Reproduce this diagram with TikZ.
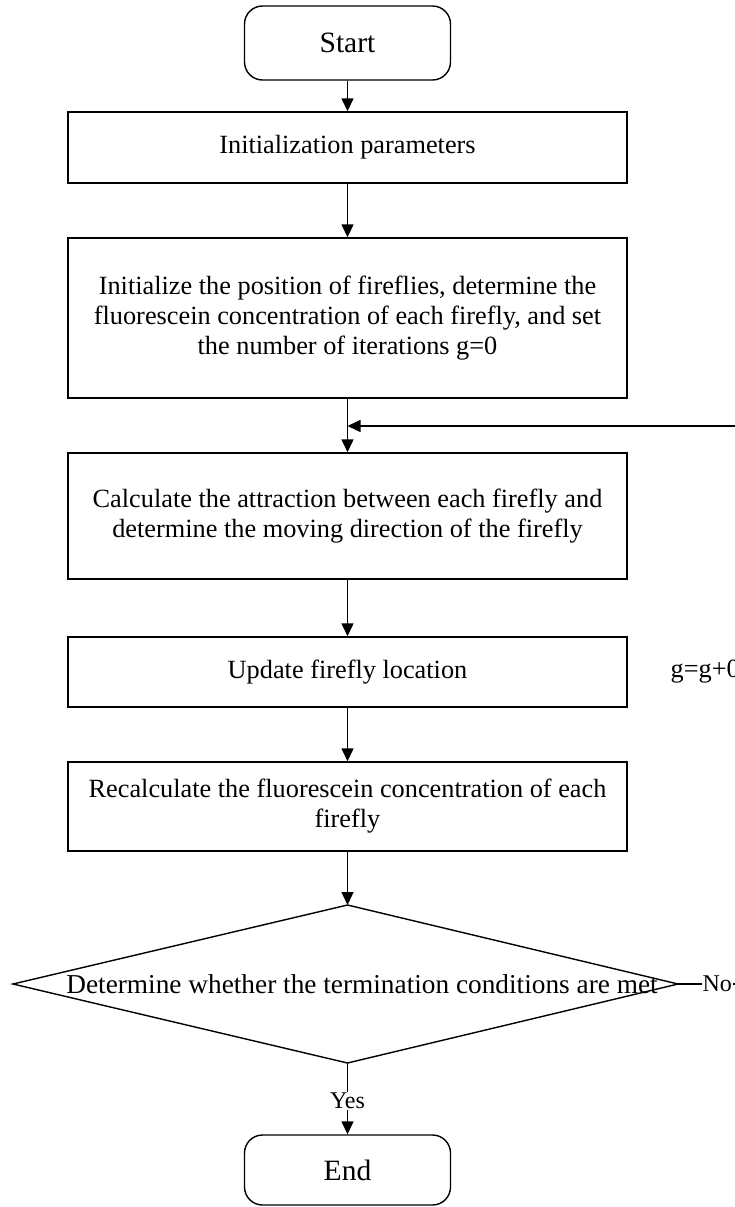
\documentclass[tikz,border=0pt]{standalone}
\usepackage{fontspec}
\setmainfont{Liberation Serif}
\usetikzlibrary{arrows.meta}
\begin{document}
\begin{tikzpicture}[x=1pt,y=-1pt, line width=1.4pt,
  >={Triangle[width=12pt,length=13pt]},
  box/.style={draw, minimum width=559pt, inner sep=0pt, align=center,
    font=\fontsize{26.3}{30}\selectfont},
  term/.style={draw, rounded corners=18pt, minimum width=206pt, minimum height=74pt,
    inner sep=0pt, font=\fontsize{29.5}{32}\selectfont},
  lab/.style={fill=white, inner sep=1pt, font=\fontsize{24}{26}\selectfont}]
\useasboundingbox (0,0) rectangle (735,1207);
\clip (0,0) rectangle (735,1207);

\node[term] (start) at (347.5,43) {Start};
\node[box, minimum height=71pt] (b1) at (347.5,147.5) {Initialization parameters};
\node[box, minimum height=160pt] (b2) at (347.5,318) {Initialize the position of fireflies, determine the\\fluorescein concentration of each firefly, and set\\the number of iterations g=0};
\node[box, minimum height=126pt] (b3) at (347.5,516) {Calculate the attraction between each firefly and\\determine the moving direction of the firefly};
\node[box, minimum height=70pt] (b4) at (347.5,672) {Update firefly location};
\node[box, minimum height=89pt] (b5) at (347.5,806.5) {Recalculate the fluorescein concentration of each\\firefly};

\coordinate (dT) at (347.5,905);
\coordinate (dB) at (347.5,1063);
\coordinate (dL) at (13,984);
\coordinate (dR) at (678,984);
\draw (dT) -- (dR) -- (dB) -- (dL) -- cycle;
\node[font=\fontsize{27.3}{30}\selectfont, inner sep=0pt] (dtext) at (362,984) {Determine whether the termination conditions are met};

\node[term, minimum height=70pt] (end) at (347.5,1170) {End};

\node[anchor=west, inner sep=0pt, font=\fontsize{26.3}{30}\selectfont] (g) at (670,672) {g=g+0};

\coordinate (j) at (347.5,426);
\coordinate (nr) at (752,984);

\draw[->] (start) -- (b1);
\draw[->] (b1) -- (b2);
\draw[->] (b2) -- (b3);
\draw[->] (b3) -- (b4);
\draw[->] (b4) -- (b5);
\draw[->] (b5) -- (dT);
\draw[->] (dB) -- node[lab, pos=0.53] (yes) {Yes} (end);
\draw[->] (dR) -- node[lab, pos=0.53] (no) {No} (nr) |- (j);
\end{tikzpicture}
\end{document}
